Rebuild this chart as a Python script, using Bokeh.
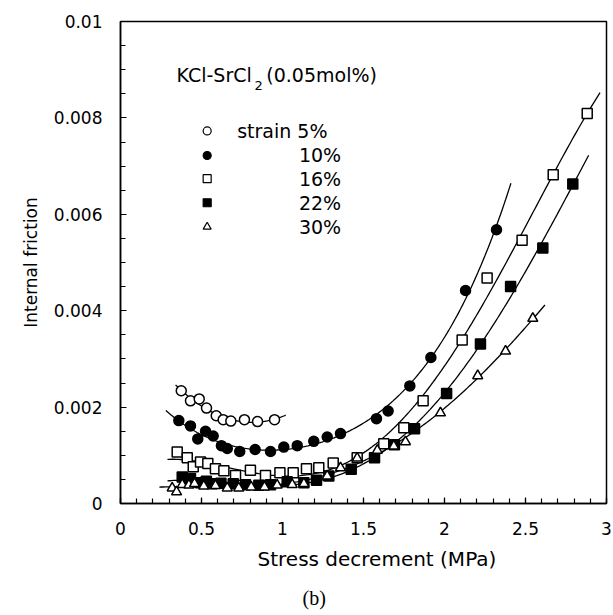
import numpy as np
from bokeh.plotting import figure
from bokeh.models import FixedTicker, Title, Range1d
from bokeh.embed import file_html
from bokeh.resources import INLINE
from bokeh.core.properties import value

# ---------------- data ----------------
x5 = [0.375, 0.432, 0.486, 0.531, 0.591, 0.634, 0.681, 0.765, 0.846, 0.951]
y5 = [0.00234, 0.00213, 0.00217, 0.00198, 0.00182, 0.00174, 0.00171, 0.00174, 0.00170, 0.00174]

x10 = [0.360, 0.432, 0.477, 0.525, 0.572, 0.623, 0.659, 0.736, 0.831, 0.926, 1.008, 1.091,
       1.193, 1.276, 1.358, 1.580, 1.652, 1.786, 1.916, 2.130, 2.321]
y10 = [0.00172, 0.00161, 0.00134, 0.00150, 0.00140, 0.00120, 0.00114, 0.00108, 0.00112, 0.00108,
       0.00117, 0.00120, 0.00129, 0.00138, 0.00145, 0.00176, 0.00192, 0.00244, 0.00303, 0.00442, 0.00568]

x16 = [0.350, 0.412, 0.449, 0.494, 0.539, 0.586, 0.638, 0.710, 0.802, 0.895, 0.984, 1.066,
       1.148, 1.224, 1.313, 1.461, 1.625, 1.749, 1.868, 2.109, 2.263, 2.479, 2.671, 2.881]
y16 = [0.00107, 0.00095, 0.00076, 0.00086, 0.00083, 0.00072, 0.00068, 0.00058, 0.00069, 0.00058,
       0.00064, 0.00064, 0.00072, 0.00074, 0.00084, 0.00095, 0.00124, 0.00157, 0.00213, 0.00339,
       0.00468, 0.00546, 0.00682, 0.00809]

x22 = [0.381, 0.432, 0.494, 0.530, 0.566, 0.620, 0.696, 0.772, 0.854, 0.926, 1.029, 1.132,
       1.210, 1.286, 1.424, 1.568, 1.691, 1.815, 2.013, 2.222, 2.408, 2.607, 2.792]
y22 = [0.00055, 0.00052, 0.00043, 0.00046, 0.00041, 0.00042, 0.00041, 0.00039, 0.00038, 0.00039,
       0.00045, 0.00043, 0.00048, 0.00057, 0.00071, 0.00095, 0.00122, 0.00155, 0.00228, 0.00331,
       0.00450, 0.00530, 0.00663]

x30 = [0.319, 0.346, 0.381, 0.422, 0.457, 0.514, 0.586, 0.659, 0.730, 0.807, 0.889, 0.967,
       1.060, 1.132, 1.276, 1.358, 1.461, 1.585, 1.687, 1.759, 1.975, 2.205, 2.377, 2.545]
y30 = [0.00032, 0.00024, 0.00039, 0.00038, 0.00041, 0.00036, 0.00037, 0.00032, 0.00032, 0.00034,
       0.00034, 0.00038, 0.00039, 0.00041, 0.00057, 0.00074, 0.00094, 0.00110, 0.00119, 0.00128,
       0.00188, 0.00265, 0.00316, 0.00384]

# extent of each fitted curve (stress decrement, MPa)
span5 = [0.34, 1.02]
span10 = [0.28, 2.41]
span16 = [0.29, 2.96]
span22 = [0.29, 2.89]
span30 = [0.24, 2.62]

series_labels = ["strain  5%", "10%", "16%", "22%", "30%"]
x_ticks = [0, 0.5, 1, 1.5, 2, 2.5, 3]
x_tick_labels = ["0", "0.5", "1", "1.5", "2", "2.5", "3"]
y_ticks = [0, 0.002, 0.004, 0.006, 0.008, 0.01]
y_tick_labels = ["0", "0.002", "0.004", "0.006", "0.008", "0.01"]

FONT = "DejaVu Sans"

p = figure(width=613, height=615, output_backend="svg", toolbar_location=None,
           x_range=Range1d(0, 3), y_range=Range1d(0, 0.01),
           min_border_left=120, min_border_right=7, min_border_top=21, min_border_bottom=110)
p.background_fill_color = "white"
p.border_fill_color = "white"
p.grid.visible = False
p.outline_line_color = "black"
p.outline_line_width = 1.5

# axes
for ax, ticks, labels, nminor in ((p.xaxis[0], x_ticks, x_tick_labels, 5),
                                  (p.yaxis[0], y_ticks, y_tick_labels, 4)):
    ax.ticker = FixedTicker(ticks=ticks,
                            minor_ticks=list(np.round(np.linspace(ticks[0], ticks[-1],
                                                     (len(ticks) - 1) * nminor + 1), 6)))
    ax.major_label_overrides = {t: l for t, l in zip(ticks, labels)}
    ax.major_tick_in = 6
    ax.major_tick_out = 0
    ax.minor_tick_in = 5
    ax.minor_tick_out = 0
    ax.axis_line_color = "black"
    ax.axis_line_width = 1.5
    ax.major_tick_line_color = "black"
    ax.minor_tick_line_color = "black"
    ax.major_tick_line_width = 1.2
    ax.minor_tick_line_width = 1.2
    ax.major_label_text_font = FONT
    ax.major_label_text_font_size = "17px"
    ax.major_label_text_color = "black"
    ax.major_label_standoff = 18

p.yaxis[0].axis_label = "Internal friction"
p.yaxis[0].axis_label_text_font = FONT
p.yaxis[0].axis_label_text_font_size = "17px"
p.yaxis[0].axis_label_text_font_style = "normal"
p.yaxis[0].axis_label_text_color = "black"
p.yaxis[0].axis_label_standoff = 10

xt = Title(text="Stress decrement (MPa)", align="left", offset=137,
           text_font=FONT, text_font_size="20px", text_font_style="normal",
           text_color="black", standoff=14)
p.add_layout(xt, "below")
bt = Title(text="(b)", align="left", offset=182,
           text_font="Liberation Serif", text_font_size="20px", text_font_style="normal",
           text_color="black", standoff=14)
p.add_layout(bt, "below")

# data + fitted curves
series = [
    (x5, y5, span5, 2, "circle", "white", 10),
    (x10, y10, span10, 4, "circle", "black", 10),
    (x16, y16, span16, 4, "square", "white", 10),
    (x22, y22, span22, 4, "square", "black", 10),
    (x30, y30, span30, 4, "triangle", "white", 10),
]
for xs, ys, span, deg, marker, fill, size in series:
    coef = np.polyfit(xs, ys, deg)
    cx = np.linspace(span[0], span[1], 200)
    p.line(cx, np.polyval(coef, cx), line_color="black", line_width=1.3)
for xs, ys, span, deg, marker, fill, size in series:
    p.scatter(xs, ys, marker=marker, size=size, fill_color=fill,
              line_color="black", line_width=1.5)

# legend block (annotation layout in data units)
leg_mx = 0.535
leg_rows = [0.00773, 0.00722, 0.00674, 0.00624, 0.00574]
leg_txt_right = [1.315, 1.362, 1.362, 1.362, 1.362]
for (xs, ys, span, deg, marker, fill, size), ly, lab, tr in zip(series, leg_rows, series_labels, leg_txt_right):
    p.scatter([leg_mx], [ly], marker=marker, size=8, fill_color=fill,
              line_color="black", line_width=1.2)
    p.text(x=[tr], y=[ly], text=[lab], text_align="right", text_baseline="middle",
           text_font=value(FONT), text_font_size="19px", text_color="black")

p.text(x=[0.346], y=[0.00890], text=["KCl-SrCl"], text_align="left", text_baseline="middle",
       text_font=value(FONT), text_font_size="19px", text_color="black")
p.text(x=[0.852], y=[0.00868], text=["2"], text_align="center", text_baseline="middle",
       text_font=value(FONT), text_font_size="13px", text_color="black")
p.text(x=[0.900], y=[0.00890], text=["(0.05mol%)"], text_align="left", text_baseline="middle",
       text_font=value(FONT), text_font_size="19px", text_color="black")

open("out.html", "w").write(file_html(p, INLINE))
